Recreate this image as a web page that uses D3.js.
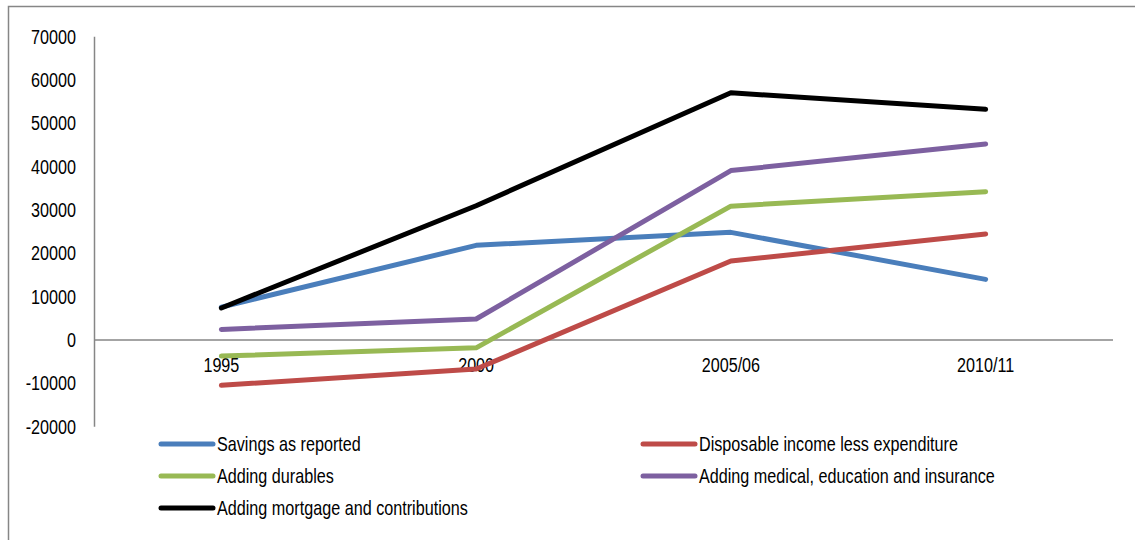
<!DOCTYPE html>
<html>
<head>
<meta charset="utf-8">
<script src="https://cdn.jsdelivr.net/npm/d3@7"></script>
<style>
  html, body { margin: 0; padding: 0; background: #fff; }
  svg text { font-family: "Liberation Sans Narrow", "Arial Narrow", "Liberation Sans", Arial, sans-serif; fill: #000; }
</style>
</head>
<body>
<svg id="chart" width="1135" height="540"></svg>
<script>
const categories = ["1995", "2000", "2005/06", "2010/11"];
const seriesNames = [
  "Savings as reported",
  "Disposable income less expenditure",
  "Adding durables",
  "Adding medical, education and insurance",
  "Adding mortgage and contributions"
];
const savingsReported = [7600, 21850, 24850, 14000];
const disposableLessExp = [-10450, -6700, 18230, 24460];
const addingDurables = [-3700, -1800, 30900, 34230];
const addingMedical = [2450, 4850, 39100, 45230];
const addingMortgage = [7400, 31000, 57070, 53240];
const seriesColors = ["#4a7ebb", "#be4b48", "#98b954", "#7d60a0", "#000000"];
const yTicks = [-20000, -10000, 0, 10000, 20000, 30000, 40000, 50000, 60000, 70000];

const seriesValues = [savingsReported, disposableLessExp, addingDurables, addingMedical, addingMortgage];

const SX = 0.83;   // horizontal condensing to imitate a narrow face
const FS = "19.5px";

const svg = d3.select("#chart");

// outer border
svg.append("rect")
  .attr("x", 8.5).attr("y", 6.5)
  .attr("width", 1140).attr("height", 560)
  .attr("fill", "none").attr("stroke", "#868686").attr("stroke-width", 1.5);

const x = d3.scalePoint().domain(categories).range([94, 1113]).padding(0.5);
const y = d3.scaleLinear().domain([-20000, 70000]).range([426.7, 36.7]);

// y axis line
svg.append("line")
  .attr("x1", 94.5).attr("x2", 94.5)
  .attr("y1", y(70000)).attr("y2", y(-20000))
  .attr("stroke", "#868686").attr("stroke-width", 1.5);

// zero line
svg.append("line")
  .attr("x1", 94).attr("x2", 1113)
  .attr("y1", y(0)).attr("y2", y(0))
  .attr("stroke", "#868686").attr("stroke-width", 1.5);

// y tick labels
svg.append("g").selectAll("text")
  .data(yTicks).join("text")
  .attr("transform", d => `translate(76,${y(d)}) scale(${SX},1)`)
  .attr("dy", "0.36em")
  .attr("text-anchor", "end")
  .style("font-size", FS)
  .text(d => d);

// x labels
svg.append("g").selectAll("text")
  .data(categories).join("text")
  .attr("transform", d => `translate(${x(d)},372) scale(${SX},1)`)
  .attr("text-anchor", "middle")
  .style("font-size", FS)
  .text(d => d);

const line = d3.line().x((d, i) => x(categories[i])).y(d => y(d));

svg.append("g").selectAll("path")
  .data(seriesValues).join("path")
  .attr("d", d => line(d))
  .attr("fill", "none")
  .attr("stroke", (d, i) => seriesColors[i])
  .attr("stroke-width", 5)
  .attr("stroke-linecap", "round")
  .attr("stroke-linejoin", "round");

// legend
const legendPos = [
  [161, 444], [643, 444],
  [161, 476], [643, 476],
  [161, 508]
];
const lg = svg.append("g").selectAll("g")
  .data(seriesNames).join("g")
  .attr("transform", (d, i) => `translate(${legendPos[i][0]},${legendPos[i][1]})`);
lg.append("line")
  .attr("x1", 0).attr("x2", 52).attr("y1", 0).attr("y2", 0)
  .attr("stroke", (d, i) => seriesColors[i])
  .attr("stroke-width", 5)
  .attr("stroke-linecap", "round");
lg.append("text")
  .attr("transform", `translate(56,0) scale(${SX},1)`)
  .attr("dy", "0.36em")
  .style("font-size", FS)
  .text(d => d);
</script>
</body>
</html>
